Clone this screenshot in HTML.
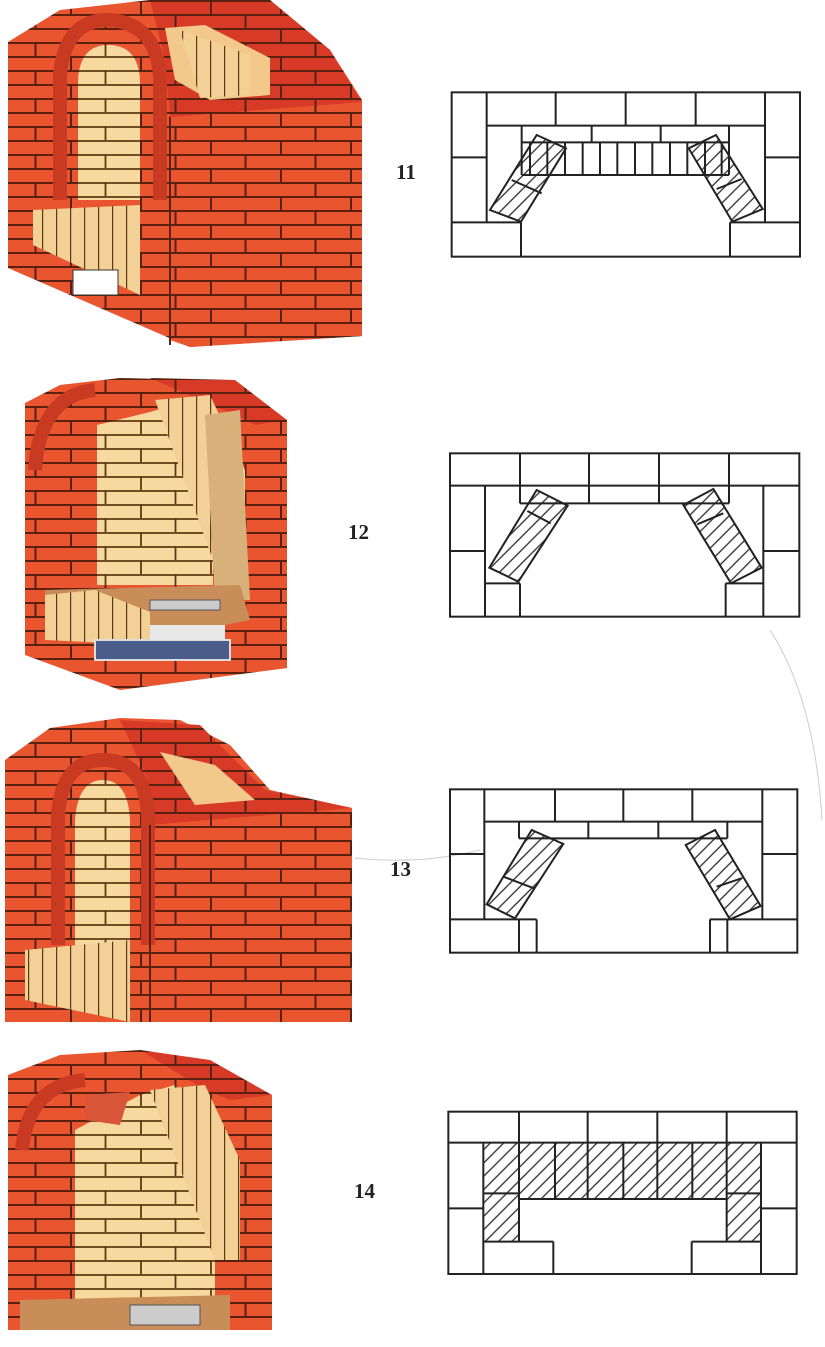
<!DOCTYPE html>
<html><head><meta charset="utf-8"><style>
html,body{margin:0;padding:0;background:#fff;}
svg{display:block}
text{font-family:"Liberation Serif",serif;font-weight:bold;font-size:21px;fill:#222}
</style></head><body>
<svg width="825" height="1347" viewBox="0 0 825 1347" xmlns="http://www.w3.org/2000/svg">
<defs>
<pattern id="br" width="70" height="28" patternUnits="userSpaceOnUse">
<rect width="70" height="28" fill="#e8552f"/>
<path d="M0 1H70M0 15H70M1 0V14M35.5 14V28" stroke="#5a2010" stroke-width="2" fill="none"/>
</pattern>
<pattern id="brd" width="70" height="28" patternUnits="userSpaceOnUse">
<rect width="70" height="28" fill="#d83a28"/>
<path d="M0 1H70M0 15H70M1 0V14M35.5 14V28" stroke="#5a2010" stroke-width="2" fill="none"/>
</pattern>
<pattern id="tn" width="70" height="28" patternUnits="userSpaceOnUse">
<rect width="70" height="28" fill="#f7d9a0"/>
<path d="M0 1H70M0 15H70M1 0V14M35.5 14V28" stroke="#5a3a10" stroke-width="1.8" fill="none"/>
</pattern>
<pattern id="tv" width="14" height="20" patternUnits="userSpaceOnUse">
<rect width="14" height="20" fill="#f3d095"/>
<path d="M0.5 0V20" stroke="#5a3a10" stroke-width="1.4"/>
</pattern>
<pattern id="h" width="40" height="40" patternUnits="userSpaceOnUse">
<path d="M-10 10L10 -10M0 40L40 0M30 50L50 30" stroke="#333" stroke-width="4"/>
</pattern>
</defs>

<!-- Illustration 11 -->
<g>
<polygon points="8,42 60,10 150,0 270,0 330,50 362,100 362,336 190,347 8,268" fill="url(#br)"/>
<polygon points="170,117 362,102 362,336 190,347 170,340" fill="url(#br)"/>
<polygon points="150,0 270,0 330,50 362,102 170,117 165,60" fill="url(#brd)"/>
<polygon points="165,28 205,25 270,58 270,95 210,100 175,80" fill="#f2c98a"/>
<polygon points="180,30 250,55 250,95 200,98" fill="url(#tv)"/>
<path d="M60,200 L60,75 Q65,20 108,20 Q155,22 160,75 L160,200" fill="none" stroke="#c93a22" stroke-width="14"/>
<path d="M78,200 L78,80 Q80,45 108,45 Q138,45 140,80 L140,200 Z" fill="url(#tn)"/>
<polygon points="33,210 140,205 140,295 33,245" fill="url(#tv)"/>
<rect x="73" y="270" width="45" height="25" fill="#fff" stroke="#333"/>
<path d="M170,117 L170,345" stroke="#5a2010" stroke-width="2"/>
</g>

<!-- Illustration 12 -->
<g>
<polygon points="25,403 60,385 120,378 200,380 240,395 287,420 287,668 120,690 25,655" fill="url(#br)"/>
<polygon points="255,418 287,420 287,668 255,672" fill="url(#br)"/>
<polygon points="150,378 235,380 287,420 255,425 235,415" fill="url(#brd)"/>
<path d="M35,470 Q40,395 95,390" fill="none" stroke="#c93a22" stroke-width="14"/>
<polygon points="97,425 150,412 175,405 213,470 213,585 97,585" fill="url(#tn)"/>
<polygon points="155,400 210,395 245,470 245,560 213,560" fill="url(#tv)"/>
<polygon points="205,415 240,410 250,600 215,600" fill="#d8b07a"/>
<polygon points="45,590 240,585 250,620 150,640 45,640" fill="#c98d5a"/>
<polygon points="45,595 95,590 150,612 150,645 45,640" fill="url(#tv)"/>
<rect x="150" y="600" width="70" height="10" fill="#ccc" stroke="#555"/>
<rect x="95" y="640" width="135" height="20" fill="#4a5d8a" stroke="#ddd" stroke-width="2"/>
<rect x="150" y="625" width="75" height="15" fill="#e8e8e8"/>
</g>

<!-- Illustration 13 -->
<g>
<polygon points="5,760 50,728 120,718 180,720 230,745 270,790 352,808 352,1022 5,1022" fill="url(#br)"/>
<polygon points="150,825 352,808 352,1022 150,1022" fill="url(#br)"/>
<polygon points="120,720 200,725 265,790 352,808 150,825 148,780" fill="url(#brd)"/>
<polygon points="160,752 215,765 255,800 195,805" fill="#f2c98a"/>
<path d="M58,945 L58,815 Q62,760 103,760 Q145,760 148,815 L148,945" fill="none" stroke="#c93a22" stroke-width="14"/>
<path d="M75,945 L75,820 Q78,780 103,780 Q128,780 130,820 L130,945 Z" fill="url(#tn)"/>
<polygon points="25,950 130,940 130,1022 25,1000" fill="url(#tv)"/>
<path d="M150,825 L150,1022" stroke="#5a2010" stroke-width="2"/>
</g>

<!-- Illustration 14 -->
<g>
<polygon points="8,1075 60,1055 140,1050 200,1060 272,1095 272,1330 8,1330" fill="url(#br)"/>
<polygon points="230,1100 272,1095 272,1330 230,1330" fill="url(#br)"/>
<polygon points="140,1050 210,1060 272,1095 230,1100 205,1090" fill="url(#brd)"/>
<path d="M22,1150 Q28,1085 85,1080" fill="none" stroke="#c93a22" stroke-width="14"/>
<polygon points="75,1130 140,1095 175,1085 215,1150 215,1300 75,1300" fill="url(#tn)"/>
<polygon points="150,1090 205,1085 240,1160 240,1260 215,1260" fill="url(#tv)"/>
<polygon points="85,1095 130,1092 120,1125 85,1120" fill="#d8553a"/>
<polygon points="20,1300 230,1295 230,1330 20,1330" fill="#c98d5a"/>
<rect x="130" y="1305" width="70" height="20" fill="#ccc" stroke="#555"/>
</g>

<!-- faint curve -->
<path d="M770,630 Q815,700 822,820" stroke="#ccc" fill="none" stroke-width="1"/>
<path d="M355,858 Q420,865 480,850" stroke="#ccc" fill="none" stroke-width="1"/>

<text x="396" y="179">11</text>
<text x="348" y="539">12</text>
<text x="390" y="876">13</text>
<text x="354" y="1198">14</text>

<!-- Plan 11 -->
<g transform="translate(440,85) scale(0.33333)" fill="none" stroke="#222" stroke-width="6">
<polygon points="290,150 378,190 243,410 150,375" fill="url(#h)"/>
<polygon points="828,150 746,190 877,410 968,372" fill="url(#h)"/>
<rect x="35" y="22" width="1045" height="493"/>
<path d="M140,22V412M35,217H140M35,412H245M243,412V515M140,122H975M347,22V122M557,22V122M767,22V122M975,22V412M975,217H1080M870,412H1080M870,412V515M245,122V270M867,122V270M245,172H867M455,122V172M662,122V172M245,270H867"/>
<path d="M270,172V270M322,172V270M375,172V270M428,172V270M480,172V270M532,172V270M585,172V270M637,172V270M690,172V270M742,172V270M795,172V270M845,172V270"/>
<path d="M215,285L305,325M830,312L905,282"/>
</g>

<!-- Plan 12 -->
<g transform="translate(440,445) scale(0.33333)" fill="none" stroke="#222" stroke-width="6">
<polygon points="290,135 383,182 235,410 148,368" fill="url(#h)"/>
<polygon points="820,132 730,180 873,415 965,368" fill="url(#h)"/>
<rect x="30" y="25" width="1048" height="490"/>
<path d="M30,122H1078M240,25V175M447,25V175M657,25V175M867,25V175M240,175H867M135,122V515M30,318H135M135,415H240M240,415V515M970,122V515M970,318H1078M857,415H970M857,415V515"/>
<path d="M262,198L332,235M772,238L850,205"/>
</g>

<!-- Plan 13 -->
<g transform="translate(440,780) scale(0.33333)" fill="none" stroke="#222" stroke-width="6">
<polygon points="275,150 370,192 225,415 140,373" fill="url(#h)"/>
<polygon points="825,150 737,195 870,418 962,378" fill="url(#h)"/>
<rect x="30" y="28" width="1042" height="490"/>
<path d="M133,28V418M30,222H133M133,125H967M345,28V125M550,28V125M757,28V125M967,28V418M967,222H1072M237,125V175M862,125V175M237,175H862M445,125V175M655,125V175M30,418H290M290,418V518M237,418V518M810,418H1072M810,418V518M862,418V518"/>
<path d="M190,290L282,325M830,320L905,295"/>
</g>

<!-- Plan 14 -->
<g transform="translate(440,1100) scale(0.33333)" fill="none" stroke="#222" stroke-width="6">
<path d="M130,128H963V425H860V297H237V425H130Z" fill="url(#h)" stroke="none"/>
<rect x="25" y="35" width="1045" height="487"/>
<path d="M25,128H1070M237,35V425M443,35V297M652,35V297M860,35V425M345,128V297M550,128V297M757,128V297M237,297H860M130,128V522M25,325H130M130,280H237M130,425H340M340,425V522M963,128V522M963,325H1070M860,280H963M755,425H963M755,425V522"/>
</g>
</svg>
</body></html>
